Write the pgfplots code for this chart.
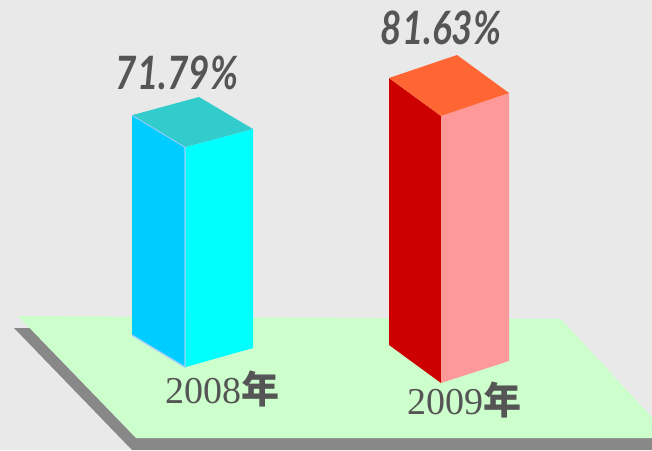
\documentclass[border=0pt]{standalone}
\usepackage{pgfplots}
\pgfplotsset{compat=1.18}
\usepackage{fontspec}
\setmainfont{Liberation Serif}
\newfontfamily\valfont{Lato}
\newfontfamily\cjk{Noto Sans CJK SC}
\definecolor{bgc}{HTML}{E9E9E9}
\definecolor{floor}{HTML}{CCFFCC}
\definecolor{shadow}{HTML}{888888}
\definecolor{cyanL}{HTML}{00CCFF}
\definecolor{cyanR}{HTML}{00FFFF}
\definecolor{cyanT}{HTML}{33CCCC}
\definecolor{cyanE}{HTML}{99CCFF}
\definecolor{redL}{HTML}{CC0000}
\definecolor{redR}{HTML}{FF9999}
\definecolor{redT}{HTML}{FF6633}
\definecolor{txt}{HTML}{555555}
\begin{document}
\begin{tikzpicture}
\begin{axis}[
  width=652pt, height=450pt, scale only axis, hide axis,
  xmin=0, xmax=652, ymin=0, ymax=450, y dir=reverse, clip=true]
% background
\addplot[fill=bgc, draw=none] coordinates {(0,0) (652,0) (652,450) (0,450)};
% floor shadow and floor
\addplot[fill=shadow, draw=none] coordinates {(14,328) (557,331) (667,450) (132,450)};
\addplot[fill=floor, draw=none] coordinates {(18,316) (561,319) (671,438) (136,438)};
% 2008 bar (71.79%)
\addplot[fill=cyanL, draw=cyanE, line width=1.3pt] coordinates {(132,115) (185,147) (185,367) (132,335)};
\addplot[fill=cyanR, draw=none] coordinates {(185.7,147) (253,129) (253,348) (185.7,367)};
\addplot[fill=cyanT, draw=none] coordinates {(132.7,115) (199,97) (253,129) (185.7,147)};
% 2009 bar (81.63%)
\addplot[fill=redL, draw=none] coordinates {(389,78) (441,116) (441,383) (389,345)};
\addplot[fill=redR, draw=none] coordinates {(441,116) (509,93) (509,361) (441,383)};
\addplot[fill=redT, draw=none] coordinates {(389,78) (457,55) (509,93) (441,116)};
% value labels
\addplot[draw=none, mark=none, point meta=explicit symbolic, nodes near coords,
  every node near coord/.append style={anchor=base, text=txt, inner sep=0pt, xscale=0.8,
    font=\valfont\bfseries\itshape\fontsize{46}{46}\selectfont}]
  coordinates {(177,89) [71.79\%] (441,44) [81.63\%]};
% category labels
\node[anchor=base, text=txt, inner sep=0pt, font=\fontsize{38}{38}\selectfont]
  at (axis cs:222.5,403) {2008{\cjk\bfseries 年}};
\node[anchor=base, text=txt, inner sep=0pt, font=\fontsize{38}{38}\selectfont]
  at (axis cs:464.5,414) {2009{\cjk\bfseries 年}};
\end{axis}
\end{tikzpicture}
\end{document}
